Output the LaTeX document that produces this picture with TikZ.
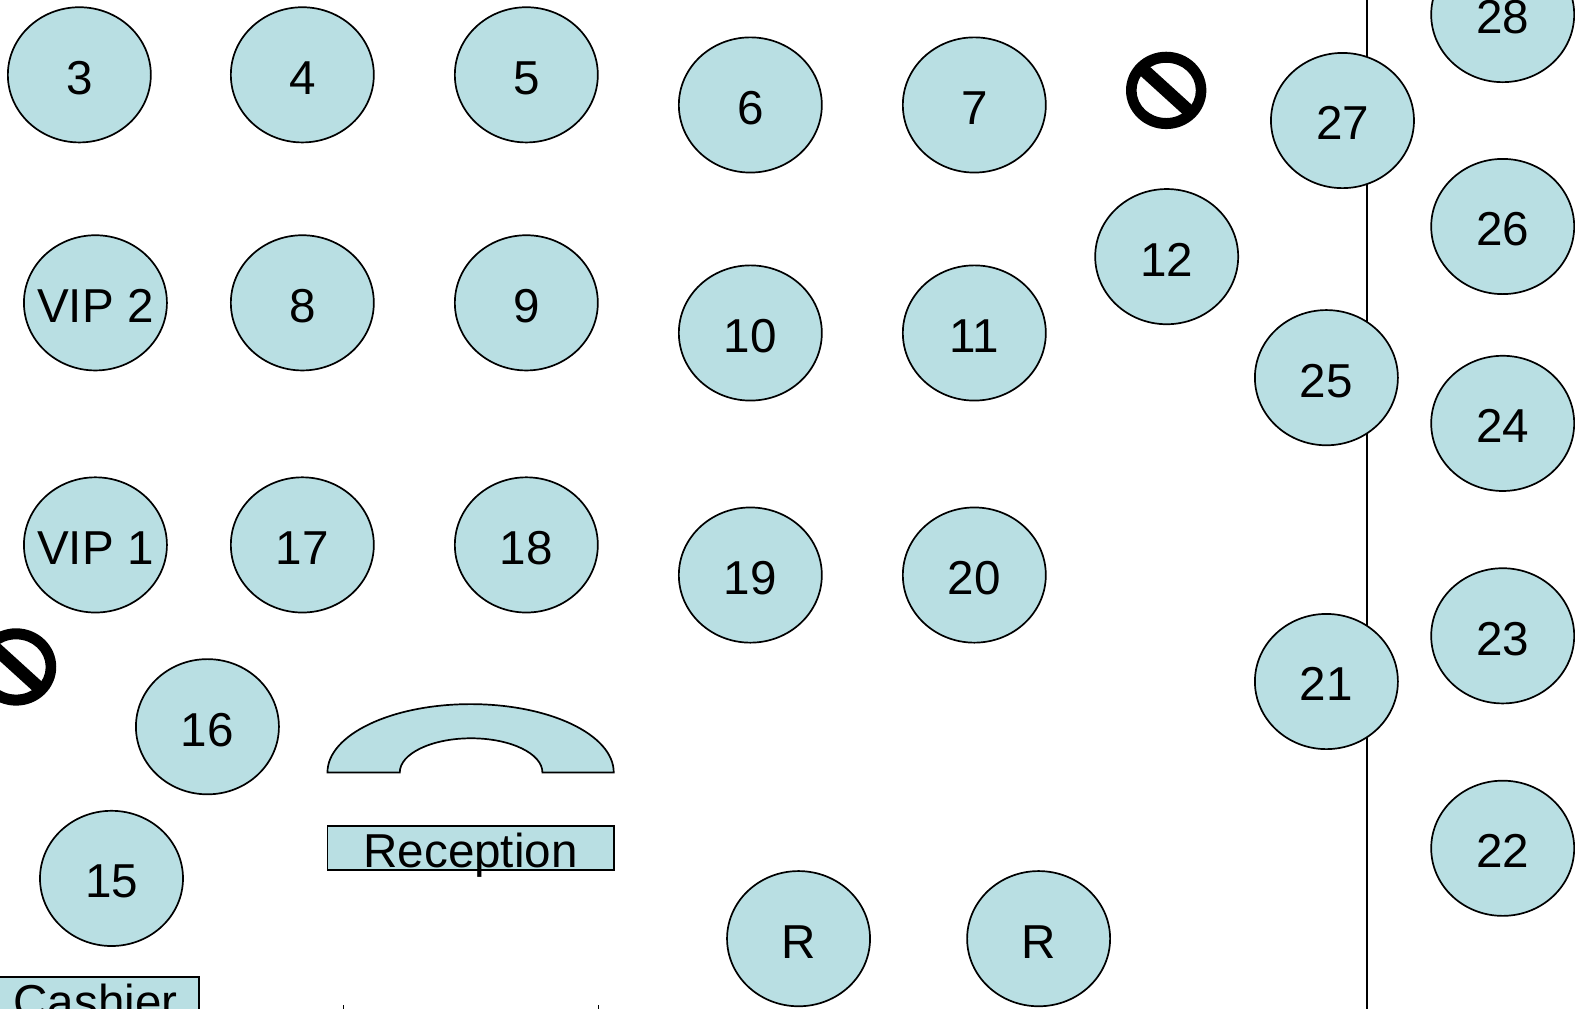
\documentclass[tikz,border=0pt]{standalone}
\usepackage{fontspec}
\setmainfont{Liberation Sans}
\usetikzlibrary{shapes.geometric}
\definecolor{tablefill}{HTML}{B9DFE3}

\begin{document}
\begin{tikzpicture}[
    x=0.50223pt, y=-0.50223pt,
    font=\fontsize{23.8pt}{28pt}\selectfont,
    tablenode/.style={ellipse, draw=black, fill=tablefill, line width=0.85pt, inner sep=0pt, minimum width=71.5pt, minimum height=67.6pt}, % Round table
    tabletext/.style={inner sep=0pt, text height=17pt, text depth=0pt, yshift=-1.2pt},
    deskbox/.style={rectangle, draw=black, fill=tablefill, line width=0.85pt, inner sep=0pt, minimum width=143.1pt, minimum height=22.1pt},
    nosign/.pic={
        \fill[black, even odd rule] (0,0) ellipse (40 and 38.5) (0,0) ellipse (29.5 and 27.5);
        \draw[black, line width=6.5pt] (-22,-20) -- (22,20);
    }
]
\useasboundingbox (0,0) rectangle (1568,1004.5);

% Wall
\coordinate (walltop) at (1361,-5);
\coordinate (wallend) at (1361,1010);
\draw[line width=0.9pt] (walltop) -- (wallend);

% Round tables
\foreach \nm/\cx/\cy/\txt in {
    t3/79/74.5/3, t4/301/74.5/4, t5/524/74.5/5,
    t6/747/104.5/6, t7/970/104.5/7,
    vip2/95/301.5/VIP 2, t8/301/301.5/8, t9/524/301.5/9,
    t10/747/331.5/10, t11/970/331.5/11, t12/1161.5/255.5/12,
    vip1/95/542.5/VIP 1, t17/301/542.5/17, t18/524/542.5/18,
    t19/747/572.5/19, t20/970/572.5/20,
    t16/206.5/723.5/16, t15/111/874.5/15,
    r1/795/934.5/R, r2/1034/934.5/R,
    t21/1320.5/678.5/21, t22/1496/844.5/22, t23/1496/633/23,
    t24/1496/421.5/24, t25/1320.5/376/25, t26/1496/225.5/26,
    t27/1336.5/120/27, t28/1496/14.5/28}
{
    \node[tablenode, label={[tabletext]center:\txt}] (\nm) at (\cx,\cy) {};
}

% No-entry signs
\pic at (1161,90) {nosign};
\pic at (16,664) {nosign};

% Reception desk
\draw[fill=tablefill, line width=0.85pt] (326,769) arc[start angle=180, end angle=360, x radius=142.5, y radius=68]
    -- (540,769) arc[start angle=360, end angle=180, x radius=71, y radius=34] -- cycle;
\node[deskbox, label={[inner sep=0pt, yshift=-3.5pt]center:Reception}] (reception) at (468.5,844) {};

% Cashier, cut by the page edge
\node[deskbox, minimum width=103.5pt, label={[inner sep=0pt, yshift=-1pt]center:Cashier}] (cashier) at (95,995) {};

% Ticks at the bottom edge
\coordinate (tickA) at (342,1001);
\coordinate (tickB) at (596,1001);
\draw[line width=0.5pt] (tickA) -- +(0,6);
\draw[line width=0.5pt] (tickB) -- +(0,6);

\end{tikzpicture}
\end{document}
